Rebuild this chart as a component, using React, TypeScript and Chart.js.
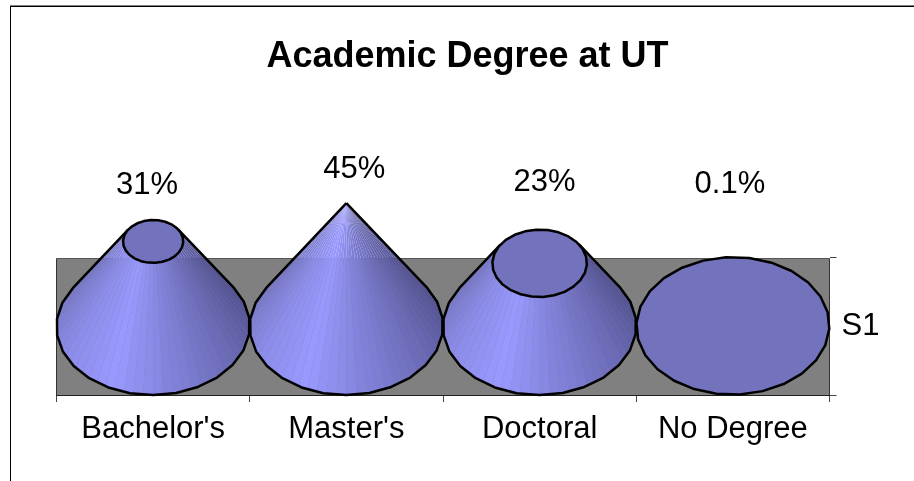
import React, { useEffect, useRef } from "react";
import { Chart, registerables } from "chart.js";

Chart.register(...registerables);

const chartTitle = "Academic Degree at UT";
const categories = ["Bachelor's", "Master's", "Doctoral", "No Degree"];
const seriesName = "S1";
const values = [31, 45, 23, 0.1];
const valueLabels = ["31%", "45%", "23%", "0.1%"];

// Axis range: the cone base ellipse is centred on 0, the floor of the 3D box sits at axisMin.
const axisMin = -25.2;
const axisMax = 45;
const bandTop = 25;

// Excel places each 3D label by its own rules: offsets from the mark, in px.
const labelDx = [-6, 8, 5, -3];
const labelDy = [-56, -34, -81, -141];

const FONT = "'Liberation Sans', Arial, sans-serif";
const TILT_X = 0.07;
const TILT_Y = 0.03;
const OUTLINE = 2.5;

const shadeStops: [number, number[]][] = [
  [-40, [0x4c, 0x4c, 0x88]],
  [0, [0x5a, 0x5a, 0x9e]],
  [40, [0x6e, 0x6e, 0xbc]],
  [80, [0x84, 0x84, 0xe0]],
  [112, [0x99, 0x99, 0xff]],
  [150, [0x8c, 0x8c, 0xea]],
  [180, [0x7e, 0x7e, 0xd2]],
  [225, [0x6c, 0x6c, 0xb4]],
];

function shade(deg: number): string {
  for (let i = 0; i < shadeStops.length - 1; i++) {
    const [a, ca] = shadeStops[i];
    const [b, cb] = shadeStops[i + 1];
    if (deg <= b) {
      const t = Math.max(0, (deg - a) / (b - a));
      const c = ca.map((v, k) => Math.round(v + (cb[k] - v) * t));
      return `rgb(${c[0]},${c[1]},${c[2]})`;
    }
  }
  const l = shadeStops[shadeStops.length - 1][1];
  return `rgb(${l[0]},${l[1]},${l[2]})`;
}

const framePlugin = {
  id: "frame",
  beforeDraw(chart: any) {
    const { ctx, width, height } = chart;
    ctx.save();
    ctx.fillStyle = "#ffffff";
    ctx.fillRect(0, 0, width, height);
    ctx.fillStyle = "#808080";
    ctx.fillRect(10, 5, width - 10, 1);
    ctx.fillStyle = "#000000";
    ctx.fillRect(10, 6, width - 10, 1);
    ctx.fillRect(10, 6, 1, height - 6);
    ctx.restore();
  },
};

const bandPlugin = {
  id: "band",
  beforeDatasetsDraw(chart: any) {
    const { ctx, chartArea, scales } = chart;
    const top = Math.round(scales.y.getPixelForValue(bandTop)) + 0.5;
    const bottom = chartArea.bottom;
    ctx.save();
    ctx.fillStyle = "#808080";
    ctx.fillRect(chartArea.left, top, chartArea.right - chartArea.left, bottom - top);
    ctx.strokeStyle = "#555555";
    ctx.lineWidth = 1;
    ctx.beginPath();
    ctx.moveTo(chartArea.left, top);
    ctx.lineTo(chartArea.right, top);
    ctx.stroke();
    ctx.strokeStyle = "#333333";
    ctx.beginPath();
    ctx.moveTo(chartArea.left, top);
    ctx.lineTo(chartArea.left, bottom);
    ctx.moveTo(chartArea.right, top);
    ctx.lineTo(chartArea.right, bottom);
    ctx.stroke();
    ctx.restore();
  },
};

const conePlugin = {
  id: "cones",
  afterDatasetsDraw(chart: any) {
    const { ctx, scales } = chart;
    const meta = chart.getDatasetMeta(0);
    const y0 = scales.y.getPixelForValue(0);
    const ry = scales.y.getPixelForValue(axisMin) - y0;
    const apexY = scales.y.getPixelForValue(axisMax);
    meta.data.forEach((bar: any, i: number) => {
      const cx = bar.x;
      const rx = bar.width / 2;
      const ratio = 1 - values[i] / axisMax;
      const ux = rx, uy = TILT_Y * rx, vx = -TILT_X * ry, vy = ry;
      const px = (th: number, k = 1) => cx + k * (ux * Math.cos(th) + vx * Math.sin(th));
      const py = (th: number, k = 1, c = y0) => c + k * (uy * Math.cos(th) + vy * Math.sin(th));
      const topY = bar.y;

      // Tangent points of the silhouette from the apex onto the base ellipse.
      const ax = 0, ay = apexY - y0;
      const det = ux * vy - vx * uy;
      const alpha = (ax * vy - vx * ay) / det;
      const beta = (ux * ay - ax * uy) / det;
      const mag = Math.hypot(alpha, beta);
      ctx.save();
      ctx.lineJoin = "round";
      if (ratio < 0.98 && mag > 1) {
        const phi = Math.atan2(beta, alpha);
        const d = Math.acos(1 / mag);
        const a1 = phi + d; // right side
        const a2 = phi - d + Math.PI * 2; // left side
        const start = a1 < 0 ? a1 : a1 - Math.PI * 2 * Math.floor((a1 + Math.PI) / (Math.PI * 2));
        const end = a2 - Math.PI * 2 * Math.floor((a2 - start) / (Math.PI * 2));
        const step = (6 * Math.PI) / 180;
        const n = Math.ceil((end - start) / step);
        for (let s = 0; s < n; s++) {
          const t0 = start + ((end - start) * s) / n;
          const t1 = start + ((end - start) * (s + 1)) / n;
          ctx.fillStyle = shade((((t0 + t1) / 2) * 180) / Math.PI);
          ctx.beginPath();
          ctx.moveTo(px(t0), py(t0));
          ctx.lineTo(px(t1), py(t1));
          ctx.lineTo(px(t1, ratio), py(t1, ratio, topY));
          ctx.lineTo(px(t0, ratio), py(t0, ratio, topY));
          ctx.closePath();
          ctx.fill();
        }
        ctx.strokeStyle = "#000000";
        ctx.lineWidth = OUTLINE;
        ctx.beginPath();
        ctx.moveTo(px(start, ratio), py(start, ratio, topY));
        const segs = Math.ceil((end - start) / ((14 * Math.PI) / 180));
        for (let s = 0; s <= segs; s++) {
          const t = start + ((end - start) * s) / segs;
          ctx.lineTo(px(t), py(t));
        }
        ctx.lineTo(px(end, ratio), py(end, ratio, topY));
        ctx.stroke();
      }
      if (ratio > 0.001) {
        ctx.fillStyle = "#7272bd";
        ctx.strokeStyle = "#000000";
        ctx.lineWidth = OUTLINE;
        ctx.beginPath();
        const segs = 26;
        for (let s = 0; s < segs; s++) {
          const t = (s / segs) * Math.PI * 2;
          const X = px(t, ratio), Y = py(t, ratio, topY);
          if (s === 0) ctx.moveTo(X, Y);
          else ctx.lineTo(X, Y);
        }
        ctx.closePath();
        ctx.fill();
        ctx.stroke();
      }
      ctx.fillStyle = "#000000";
      ctx.font = `31px ${FONT}`;
      ctx.textAlign = "center";
      ctx.textBaseline = "middle";
      ctx.fillText(valueLabels[i], cx + labelDx[i], bar.y + labelDy[i]);
      ctx.restore();
    });
  },
};

export default function App() {
  const ref = useRef<HTMLCanvasElement>(null);
  useEffect(() => {
    if (!ref.current) return;
    const chart = new Chart(ref.current, {
      type: "bar",
      data: {
        labels: categories,
        datasets: [
          {
            label: seriesName,
            data: values,
            backgroundColor: "transparent",
            borderWidth: 0,
            categoryPercentage: 1,
            barPercentage: 1,
            yAxisID: "y",
          },
        ],
      },
      plugins: [framePlugin, bandPlugin, conePlugin],
      options: {
        responsive: false,
        animation: false,
        devicePixelRatio: 1,
        layout: { padding: { left: 21, right: 0, top: 0, bottom: 0 } },
        plugins: {
          legend: { display: false },
          tooltip: { enabled: false },
          title: {
            display: true,
            text: chartTitle,
            color: "#000000",
            font: { family: FONT, size: 36, weight: "bold", lineHeight: 1.2 },
            padding: { top: 35, bottom: 125 },
          },
        },
        scales: {
          x: {
            type: "category",
            offset: true,
            grid: { offset: true, drawOnChartArea: false, tickLength: 7, tickColor: "#444444" },
            border: { display: true, color: "#222222" },
            ticks: {
              color: "#000000",
              font: { family: FONT, size: 31 },
              padding: 9,
              maxRotation: 0,
              autoSkip: false,
            },
            afterFit: (s: any) => {
              s.height = 86;
            },
          },
          y: {
            position: "left",
            min: axisMin,
            max: axisMax,
            grid: { display: false },
            border: { display: false },
            ticks: { display: false },
            afterFit: (s: any) => {
              s.width = 35.5;
            },
          },
          y1: {
            position: "right",
            min: axisMin,
            max: axisMax,
            border: { display: false },
            grid: {
              drawOnChartArea: false,
              tickLength: 7,
              tickColor: (c: any) => (c.tick && c.tick.value === 0 ? "transparent" : "#444444"),
            },
            afterBuildTicks: (s: any) => {
              s.ticks = [{ value: axisMin }, { value: 0 }, { value: bandTop }];
            },
            ticks: {
              color: "#000000",
              font: { family: FONT, size: 31 },
              padding: 5,
              autoSkip: false,
              callback: (v: any) => (v === 0 ? seriesName : ""),
            },
            afterFit: (s: any) => {
              s.width = 84.5;
            },
          },
        },
      },
    } as any);
    return () => chart.destroy();
  }, []);
  return (
    <div style={{ position: "absolute", left: 0, top: 0, width: 914, height: 481 }}>
      <canvas ref={ref} width={914} height={481} style={{ display: "block" }} />
    </div>
  );
}
